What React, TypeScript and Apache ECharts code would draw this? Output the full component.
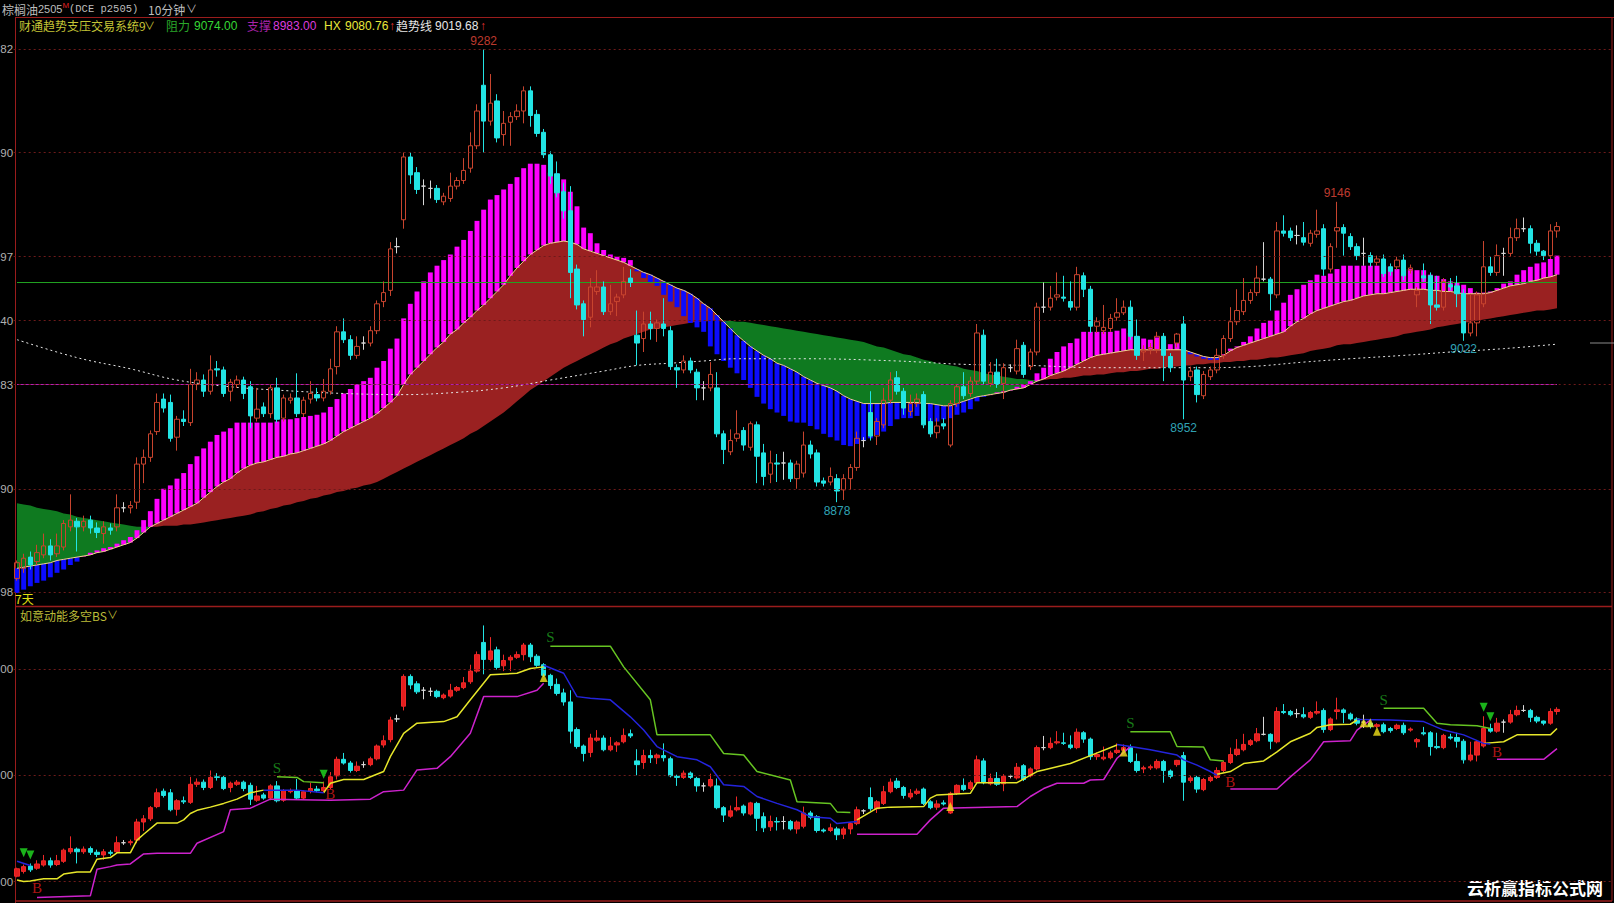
import React, { useEffect, useRef } from "react";
import * as echarts from "echarts";

// ---------- DATA ----------
const SLOT_COUNT = 240;
const SLOTS = Array.from({ length: SLOT_COUNT }, (_, i) => String(i));

// [open, close, low, high]
const CANDLES: number[][] = [
  [8810,8824,8808,8826],[8819,8828,8815,8832],[8829,8822,8818,8834],[8825,8833,8822,8840],[8831,8839,8828,8850],
  [8839,8831,8826,8845],[8832,8839,8829,8850],[8838,8859,8835,8862],[8856,8862,8852,8885],[8861,8856,8834,8864],
  [8856,8861,8852,8866],[8862,8855,8850,8866],[8855,8851,8846,8860],[8850,8856,8841,8861],[8855,8853,8849,8859],
  [8856,8873,8852,8885],[8873,8873,8869,8878],[8873,8875,8868,8879],[8878,8912,8872,8918],[8912,8918,8895,8925],
  [8918,8939,8914,8942],[8941,8967,8938,8975],[8970,8962,8958,8975],[8967,8935,8932,8974],[8936,8952,8924,8955],
  [8952,8950,8946,8960],[8949,8983,8946,8997],[8983,8987,8978,8994],[8987,8977,8972,8992],[8977,8996,8974,9009],
  [8997,8996,8990,9004],[8996,8975,8972,8999],[8977,8985,8968,8988],[8983,8987,8980,8991],[8987,8975,8970,8990],
  [8981,8955,8944,8986],[8953,8961,8950,8980],[8963,8957,8954,8967],[8957,8980,8953,8983],[8980,8952,8949,8989],
  [8953,8971,8950,8974],[8969,8971,8966,8975],[8971,8957,8954,8993],[8957,8969,8954,8972],[8970,8975,8966,8986],
  [8974,8971,8968,8980],[8971,8977,8968,8988],[8977,8997,8974,9006],[8999,9030,8992,9035],[9030,9023,9020,9042],
  [9023,9009,9005,9027],[9009,9017,9006,9026],[9020,9020,9014,9026],[9020,9031,9017,9035],[9031,9055,9028,9058],
  [9057,9065,9052,9075],[9067,9104,9062,9110],[9106,9106,9100,9114],[9130,9186,9122,9190],[9186,9170,9162,9190],
  [9172,9157,9153,9177],[9160,9160,9143,9166],[9158,9158,9149,9165],[9158,9148,9145,9161],[9146,9151,9143,9154],
  [9149,9160,9146,9172],[9160,9165,9157,9168],[9165,9174,9162,9185],[9176,9196,9172,9208],[9196,9227,9193,9233],
  [9250,9218,9190,9282],[9218,9234,9214,9260],[9236,9203,9199,9242],[9206,9216,9196,9227],[9217,9222,9196,9226],
  [9222,9227,9219,9233],[9227,9245,9216,9249],[9245,9223,9213,9249],[9224,9207,9204,9228],[9208,9188,9185,9211],
  [9188,9169,9162,9191],[9171,9154,9150,9182],[9155,9138,9131,9163],[9138,9083,9060,9160],[9086,9054,9050,9090],
  [9055,9041,9026,9058],[9043,9070,9034,9078],[9066,9070,9063,9085],[9070,9048,9045,9075],[9048,9055,9045,9072],
  [9057,9061,9044,9064],[9063,9075,9060,9088],[9078,9074,9070,9086],[9027,9020,9000,9049],[9024,9037,9012,9048],
  [9037,9033,9023,9048],[9033,9038,9021,9041],[9037,9033,9026,9060],[9031,8999,8996,9035],[8998,8996,8980,9001],
  [8996,9004,8993,9009],[9004,8996,8993,9007],[8994,8980,8969,8997],[8980,8980,8969,8986],[8980,8992,8977,9003],
  [8980,8939,8936,8994],[8939,8925,8912,8942],[8923,8933,8920,8943],[8935,8939,8932,8960],[8942,8929,8924,8945],
  [8927,8948,8924,8950],[8947,8919,8895,8950],[8922,8901,8893,8930],[8903,8913,8895,8924],[8913,8912,8896,8921],
  [8913,8913,8898,8923],[8913,8899,8896,8916],[8899,8912,8890,8915],[8904,8929,8900,8941],[8929,8921,8917,8933],
  [8922,8896,8892,8925],[8897,8895,8892,8900],[8896,8901,8893,8909],[8899,8888,8878,8903],[8889,8899,8880,8903],
  [8899,8909,8889,8912],[8909,8935,8906,8941],[8933,8933,8927,8936],[8958,8937,8933,8977],[8937,8950,8929,8953],
  [8947,8969,8944,8980],[8969,8987,8966,8994],[8989,8977,8974,8995],[8977,8962,8956,8980],[8959,8966,8955,8974],
  [8966,8970,8963,8975],[8974,8947,8944,8977],[8950,8939,8936,8953],[8940,8946,8935,8953],[8948,8946,8943,8953],
  [8929,8966,8927,8969],[8966,8981,8963,8983],[8981,8973,8970,8994],[8975,8986,8972,8990],[8986,9029,8983,9037],
  [9027,8986,8983,9032],[8984,8994,8981,9003],[8994,8983,8980,9006],[8984,8998,8970,9002],[8998,8998,8994,9001],
  [8995,9015,8992,9023],[9018,8992,8989,9021],[8999,9012,8996,9015],[9012,9052,9009,9056],[9052,9052,9047,9074],
  [9052,9060,9049,9071],[9061,9063,9058,9083],[9061,9060,9057,9080],[9057,9052,9049,9075],[9052,9081,9049,9088],
  [9080,9068,9061,9083],[9068,9035,9029,9071],[9035,9039,9029,9043],[9031,9034,9028,9054],[9033,9042,9030,9046],
  [9043,9047,9040,9060],[9047,9052,9045,9058],[9052,9026,9023,9058],[9026,9009,9005,9041],[9012,9014,9004,9018],
  [9014,9016,9010,9020],[9014,9026,9011,9030],[9026,9009,8986,9029],[9008,8998,8994,9011],[9020,9028,9016,9029],
  [9037,8987,8952,9044],[8990,8995,8986,8999],[8996,8974,8967,8999],[8973,8992,8970,8995],[8990,8996,8987,8999],
  [8996,9009,8993,9015],[9009,9024,9006,9027],[9024,9039,9021,9052],[9039,9049,9036,9068],[9048,9058,9045,9078],
  [9058,9065,9055,9068],[9065,9078,9062,9089],[9077,9077,9075,9110],[9077,9064,9049,9079],[9063,9120,9060,9128],
  [9120,9118,9115,9134],[9120,9114,9111,9123],[9116,9116,9108,9125],[9114,9110,9107,9128],[9109,9118,9106,9121],
  [9117,9120,9114,9139],[9122,9086,9080,9126],[9086,9106,9083,9109],[9120,9123,9105,9146],[9123,9118,9098,9126],
  [9115,9106,9103,9118],[9106,9098,9094,9109],[9100,9100,9089,9114],[9098,9092,9088,9101],[9092,9095,9089,9098],
  [9095,9082,9079,9099],[9088,9084,9080,9091],[9088,9094,9085,9097],[9094,9080,9076,9099],[9085,9087,9082,9090],
  [9063,9067,9052,9070],[9080,9078,9075,9091],[9080,9054,9037,9083],[9054,9052,9049,9080],[9052,9075,9049,9078],
  [9072,9070,9067,9078],[9071,9064,9052,9080],[9064,9029,9022,9068],[9029,9038,9026,9063],[9038,9063,9026,9066],
  [9055,9088,9052,9111],[9088,9083,9080,9097],[9083,9098,9080,9108],[9100,9100,9080,9105],[9100,9114,9097,9123],
  [9114,9122,9111,9131],[9122,9122,9119,9132],[9122,9109,9100,9125],[9109,9102,9098,9112],[9102,9098,9094,9103],
  [9098,9120,9095,9126],[9120,9124,9114,9128],
];

// HX line (fast trend line, base of the histogram bars)
const HX = [
  8819,8820,8821,8822,8823,8824,8826,8827,8828,8829, 8830,8831,8833,8834,8836,8838,8840,8842,8846,8851,
  8856,8859,8862,8865,8868,8871,8874,8877,8882,8887, 8892,8896,8899,8904,8908,8911,8913,8914,8916,8918,
  8919,8921,8922,8924,8926,8928,8930,8933,8937,8941, 8944,8947,8950,8953,8957,8962,8967,8973,8983,8992,
  8998,9004,9010,9016,9021,9028,9032,9038,9043,9049, 9054,9060,9066,9072,9080,9087,9093,9099,9103,9107,
  9109,9110,9111,9110,9108,9104,9102,9100,9098,9096, 9094,9092,9089,9086,9083,9081,9078,9075,9072,9069,
  9067,9064,9060,9055,9051,9045,9039,9033,9027,9022, 9017,9013,9009,9006,9002,9000,8997,8994,8990,8987,
  8984,8982,8980,8977,8973,8970,8968,8966,8966,8966, 8966,8967,8967,8967,8967,8967,8966,8966,8965,8964,
  8964,8966,8968,8970,8972,8973,8974,8975,8976,8978, 8979,8980,8983,8986,8988,8991,8993,8995,8998,9001,
  9004,9007,9009,9010,9011,9012,9013,9014,9014,9014, 9014,9014,9014,9014,9014,9014,9012,9010,9008,9007,
  9007,9009,9013,9016,9018,9020,9022,9024,9026,9028, 9030,9035,9039,9042,9046,9049,9051,9053,9055,9057,
  9058,9060,9062,9063,9064,9064,9065,9066,9067,9068, 9068,9068,9067,9067,9066,9066,9065,9064,9064,9064,
  9064,9065,9067,9069,9071,9072,9073,9075,9076,9078, 9079,9081,
];

// outer end of the histogram bars (magenta when above HX, blue when below)
const BAR_END = [
  8797,8800,8803,8806,8808,8811,8815,8818,8822,8825, 8830,8833,8835,8837,8838,8841,8844,8847,8853,8862,
  8870,8881,8890,8893,8899,8904,8912,8919,8926,8932, 8938,8941,8944,8949,8949,8949,8949,8949,8949,8950,
  8952,8952,8953,8954,8955,8956,8958,8963,8970,8975, 8979,8983,8986,8989,8998,9004,9015,9024,9042,9055,
  9066,9075,9083,9089,9094,9099,9106,9112,9120,9129, 9139,9148,9152,9157,9162,9168,9176,9180,9180,9179,
  9172,9171,9166,9155,9142,9123,9118,9109,9103,9099, 9097,9096,9094,9084,9078,9074,9071,9063,9057,9052,
  9044,9038,9034,9030,9017,9010,9004,8998,8993,8987, 8980,8972,8966,8961,8958,8955,8950,8949,8949,8946,
  8943,8939,8936,8933,8929,8928,8930,8933,8935,8938, 8941,8946,8952,8953,8953,8955,8953,8950,8950,8952,
  8953,8956,8958,8961,8968,8972,8974,8976,8977,8978, 8981,8983,8986,8993,8998,9006,9012,9017,9020,9024,
  9030,9030,9030,9030,9030,9031,9033,9029,9026,9024, 9023,9025,9023,9019,9020,9015,9010,9008,9006,9005,
  9005,9010,9015,9017,9021,9026,9033,9038,9040,9049, 9056,9063,9068,9072,9076,9081,9080,9082,9086,9089,
  9089,9089,9089,9089,9089,9089,9088,9086,9086,9086, 9085,9085,9081,9080,9077,9075,9074,9072,9069,9065,
  9065,9066,9069,9073,9075,9081,9085,9088,9091,9092, 9095,9098,
];

// slow line (other edge of the red / green band)
const SLOW = [
  8877,8876,8875,8873,8872,8871,8870,8868,8867,8865, 8864,8863,8862,8861,8860,8859,8858,8857,8856,8856,
  8856,8856,8857,8857,8857,8858,8858,8859,8860,8861, 8862,8863,8864,8865,8866,8867,8869,8870,8872,8873,
  8875,8876,8878,8879,8881,8882,8884,8885,8887,8888, 8890,8891,8893,8894,8896,8899,8902,8905,8908,8911,
  8914,8917,8920,8923,8926,8929,8932,8935,8939,8942, 8946,8950,8954,8958,8963,8968,8973,8978,8982,8986,
  8990,8994,8998,9001,9004,9007,9010,9013,9016,9019, 9021,9024,9026,9028,9030,9032,9033,9034,9035,9036,
  9037,9038,9039,9039,9040,9040,9040,9040,9039,9039, 9038,9037,9036,9035,9034,9033,9032,9031,9030,9029,
  9028,9027,9026,9025,9024,9023,9022,9021,9019,9017, 9016,9014,9012,9010,9009,9007,9005,9004,9002,9001,
  9000,8999,8997,8996,8995,8993,8992,8991,8990,8989, 8988,8988,8987,8987,8987,8988,8988,8989,8989,8990,
  8991,8991,8992,8992,8993,8994,8994,8995,8995,8996, 8997,8997,8998,8999,8999,9000,9000,9001,9001,9002,
  9002,9003,9003,9004,9004,9005,9005,9006,9007,9007, 9008,9009,9010,9011,9013,9014,9015,9016,9018,9019,
  9019,9020,9021,9022,9023,9024,9025,9026,9028,9029, 9030,9031,9032,9034,9035,9036,9037,9038,9039,9040,
  9041,9042,9043,9044,9045,9046,9047,9048,9049,9049, 9050,9051,
];

// dotted trend line, read at points [bar index, value]
const TREND_LINE = [
  [0,9023],[9,9007],[17,8997],[24,8987],[32,8981],[39,8978],[49,8975],[58,8974],[66,8976],[73,8980],
  [80,8987],[88,8995],[93,9000],[98,9002],[103,9004],[108,9006],[118,9006],[132,9004],[142,9001],[152,9000],
  [162,8998],[172,8998],[178,8998],[185,8999],[193,9003],[200,9006],[208,9009],[215,9012],[223,9015],[231,9019],
];

const RESISTANCE = 9074;
const SUPPORT = 8983;
const LAST_BAR = 231;
const UPPER_TICKS = [9282, 9190, 9097, 9040, 8983, 8890, 8798];
const LOWER_TICKS = [9200, 9000, 8800];
const HIGH_MARKS = [[70, 9282], [198, 9146]];
const LOW_MARKS = [[123, 8878], [175, 8952], [217, 9022]];

// lower panel (如意动能多空BS) lines, segments of [bar index, value]
const YELLOW_SEGS = [
  [[0,8803],[1,8800],[2,8801],[4,8805],[6,8805],[7,8814],[9,8818],[11,8818],[12,8842],[14,8845],[15,8854],[17,8854],[18,8878],[19,8889],[21,8910],[24,8910],[25,8916],[26,8928],[27,8934],[29,8940],[31,8947],[33,8955],[35,8967],[37,8972]],
  [[46,8967],[47,8985],[49,8992],[52,8992],[55,9007],[56,9035],[58,9079],[60,9098],[64,9101],[66,9110],[68,9142],[71,9189],[75,9192],[77,9201],[79,9204]],
  [[126,8916],[129,8938],[131,8940],[136,8941],[137,8957],[138,8963],[143,8966],[144,8986],[150,8986],[153,9007],[154,9010],[158,9022],[161,9037],[165,9057]],
  [[180,9002],[182,9007],[184,9022],[187,9027],[189,9044],[191,9063],[194,9079],[195,9090],[197,9095],[200,9096],[201,9104]],
  [[220,9060],[223,9063],[225,9076],[230,9076],[231,9088]],
];
const MAGENTA_SEGS = [
  [[3,8770],[11,8773],[12,8823],[14,8828],[15,8831],[17,8833],[19,8852],[21,8853],[26,8853],[27,8872],[31,8894],[32,8935],[35,8938],[38,8955],[47,8953],[53,8955],[55,8969],[58,8972],[60,9010],[63,9013],[65,9035],[68,9079],[70,9148],[75,9148],[78,9160],[79,9173]],
  [[126,8889],[135,8889],[137,8916],[139,8938],[150,8941],[152,8960],[154,8975],[156,8985],[160,8985],[161,8991],[163,8992],[165,9032],[167,9054]],
  [[182,8974],[189,8974],[191,8997],[194,9029],[196,9063],[200,9065],[201,9085],[203,9104]],
  [[222,9030],[229,9030],[231,9050]],
];
const BLUE_SEGS = [
  [[0,8838],[2,8830]],
  [[37,8972],[42,8972],[46,8967]],
  [[79,9207],[82,9192],[84,9148],[86,9145],[89,9142],[92,9110],[94,9085],[96,9054],[99,9035],[102,9029],[104,9016],[106,8982],[109,8979],[111,8960],[114,8947],[117,8935],[119,8922],[122,8919],[123,8909],[126,8913]],
  [[165,9058],[167,9054],[170,9048],[174,9038],[175,9029],[177,9019],[179,9007],[180,9000]],
  [[201,9105],[206,9104],[211,9101],[214,9085],[217,9076],[220,9060],[221,9059]],
];
const GREEN_SEGS = [
  [[39,8997],[42,8996],[43,8988],[46,8986]],
  [[80,9243],[89,9243],[91,9204],[95,9142],[96,9076],[104,9076],[106,9041],[109,9038],[111,9007],[116,8991],[117,8950],[122,8947],[123,8931],[125,8930]],
  [[167,9082],[173,9082],[174,9054],[178,9053],[179,9029],[181,9027]],
  [[205,9126],[211,9126],[213,9098],[215,9095],[219,9093],[221,9088]],
];
const S_MARKS = [[39,9013],[80,9261],[167,9098],[205,9142]];
const B_MARKS = [[3,8787],[47,8965],[182,8988],[222,9044]];
const UP_TRIANGLES = [[79,9184],[140,8941],[166,9044],[202,9099],[203,9099],[204,9083]];
const DOWN_TRIANGLES = [[1,8854],[2,8850],[46,9002],[220,9128],[221,9110]];

// ---------- LAYOUT / STYLE ----------
const W = 1614;
const H = 903;
const GRID_LEFT = 13.67;
const GRID_WIDTH = 1600;
const CJK = "'Noto Sans CJK SC', 'Liberation Sans', sans-serif";
const NUM = "'Liberation Sans', 'Noto Sans CJK SC', sans-serif";
const BORDER = "#9a1c1c";

function buildOption() {
  const bandBase = HX.map((a, i) => Math.min(a, SLOW[i]));
  const bandRed = HX.map((a, i) => Math.max(a - SLOW[i], 0));
  const bandGreen = HX.map((a, i) => Math.max(SLOW[i] - a, 0));
  const barData = HX.map((a, i) => [i, a, BAR_END[i]]);

  // the price scale is too narrow for the full numbers: only their last two digits show
  const gridMark = (ticks: number[]) => ({
    silent: true,
    symbol: ["none", "none"],
    lineStyle: { color: "#6e1a1a", type: [2, 3], width: 1 },
    label: {
      show: true,
      position: "start",
      distance: 0.5,
      color: "#b0b0b0",
      fontSize: 11.5,
      fontFamily: NUM,
      formatter: (p: any) => String(p.value).slice(-2),
    },
    data: ticks.map((v) => ({ yAxis: v })),
  });

  const segLines = (segs: number[][][], color: string, name: string) =>
    segs.map((seg, k) => ({
      name: name + k,
      type: "line",
      xAxisIndex: 1,
      yAxisIndex: 1,
      data: seg,
      symbol: "none",
      silent: true,
      z: 5,
      lineStyle: { color, width: 1.5 },
    }));

  const txt = (x: number, y: number, text: string, fill: string, size = 12, family = CJK, extra: any = {}) => ({
    type: "text",
    x,
    y,
    silent: true,
    style: { text, fill, fontSize: size, fontFamily: family, verticalAlign: "middle", align: "left", ...extra },
  });
  const ln = (x1: number, y1: number, x2: number, y2: number, stroke: string, lineWidth = 1) => ({
    type: "line",
    silent: true,
    shape: { x1, y1, x2, y2 },
    style: { stroke, lineWidth },
  });

  return {
    animation: false,
    backgroundColor: "#000000",
    grid: [
      { left: GRID_LEFT, top: 18, width: GRID_WIDTH, height: 589 },
      { left: GRID_LEFT, top: 607, width: GRID_WIDTH, height: 294 },
    ],
    xAxis: [
      { type: "category", gridIndex: 0, data: SLOTS, boundaryGap: true, show: false },
      { type: "category", gridIndex: 1, data: SLOTS, boundaryGap: true, show: false },
    ],
    yAxis: [
      { type: "value", gridIndex: 0, min: 8784.5, max: 9310, show: false, splitLine: { show: false } },
      { type: "value", gridIndex: 1, min: 8763.3, max: 9316.7, show: false, splitLine: { show: false } },
    ],
    series: [
      // red / green band between HX and slow line
      { name: "bandBase", type: "line", stack: "band", data: bandBase, symbol: "none", silent: true, z: 1, lineStyle: { opacity: 0 } },
      { name: "bandRed", type: "line", stack: "band", data: bandRed, symbol: "none", silent: true, z: 1, lineStyle: { opacity: 0 }, areaStyle: { color: "#9a2121", opacity: 1 } },
      { name: "bandGreen", type: "line", stack: "band", data: bandGreen, symbol: "none", silent: true, z: 1, lineStyle: { opacity: 0 }, areaStyle: { color: "#0f7a20", opacity: 1 } },
      // histogram bars
      {
        name: "bars",
        type: "custom",
        xAxisIndex: 0,
        yAxisIndex: 0,
        z: 2,
        silent: true,
        data: barData,
        encode: { x: 0, y: [1, 2] },
        renderItem: (params: any, api: any) => {
          const i = api.value(0);
          const a = api.value(1);
          const c = api.value(2);
          const p1 = api.coord([i, a]);
          const p2 = api.coord([i, c]);
          const w = api.size([1, 0])[0] * 0.74;
          return {
            type: "rect",
            shape: { x: p1[0] - w / 2, y: Math.min(p1[1], p2[1]), width: w, height: Math.max(0.5, Math.abs(p1[1] - p2[1])) },
            style: { fill: c >= a ? "#ff00ff" : "#0c0cff" },
          };
        },
      },
      { name: "HX", type: "line", data: HX, symbol: "none", silent: true, z: 3, lineStyle: { color: "#f4d48c", width: 1 } },
      { name: "trend", type: "line", data: TREND_LINE, smooth: 0.4, symbol: "none", silent: true, z: 3, lineStyle: { color: "#e6e6e6", width: 1, type: [2, 3] } },
      { name: "resistance", type: "line", data: [[0, RESISTANCE], [LAST_BAR, RESISTANCE]], symbol: "none", silent: true, z: 3, lineStyle: { color: "#22a322", width: 1 } },
      { name: "support", type: "line", data: [[0, SUPPORT], [LAST_BAR, SUPPORT]], symbol: "none", silent: true, z: 3, lineStyle: { color: "#b41eb4", width: 1 } },
      {
        name: "price",
        type: "candlestick",
        xAxisIndex: 0,
        yAxisIndex: 0,
        data: CANDLES,
        barWidth: 5,
        z: 4,
        silent: true,
        itemStyle: {
          color: "rgba(0,0,0,0)",
          color0: "#22e4e4",
          borderColor: "#c8442e",
          borderColor0: "#22e4e4",
          borderColorDoji: "#d8d8d8",
          borderWidth: 1,
        },
        markLine: gridMark(UPPER_TICKS),
      },
      {
        name: "highs",
        type: "scatter",
        data: HIGH_MARKS,
        symbolSize: 1,
        itemStyle: { color: "rgba(0,0,0,0)" },
        z: 6,
        silent: true,
        label: { show: true, position: "top", distance: 2, color: "#ee4b3c", fontSize: 12, fontFamily: NUM, formatter: (p: any) => String(p.value[1]) },
      },
      {
        name: "lows",
        type: "scatter",
        data: LOW_MARKS,
        symbolSize: 1,
        itemStyle: { color: "rgba(0,0,0,0)" },
        z: 6,
        silent: true,
        label: { show: true, position: "bottom", distance: 2, color: "#3ecfe0", fontSize: 12, fontFamily: NUM, formatter: (p: any) => String(p.value[1]) },
      },
      // ----- lower panel -----
      {
        name: "price2",
        type: "candlestick",
        xAxisIndex: 1,
        yAxisIndex: 1,
        data: CANDLES,
        barWidth: 5,
        z: 4,
        silent: true,
        itemStyle: {
          color: "#e41e1e",
          color0: "#22e4e4",
          borderColor: "#f02828",
          borderColor0: "#22e4e4",
          borderColorDoji: "#d8d8d8",
          borderWidth: 1,
        },
        markLine: gridMark(LOWER_TICKS),
      },
      ...segLines(YELLOW_SEGS, "#e6e62a", "yellow"),
      ...segLines(MAGENTA_SEGS, "#cc22cc", "magenta"),
      ...segLines(BLUE_SEGS, "#2424dc", "blue"),
      ...segLines(GREEN_SEGS, "#66c422", "green"),
      {
        name: "S",
        type: "scatter",
        xAxisIndex: 1,
        yAxisIndex: 1,
        data: S_MARKS,
        symbolSize: 1,
        itemStyle: { color: "rgba(0,0,0,0)" },
        z: 7,
        silent: true,
        label: { show: true, position: "inside", formatter: "S", color: "#1f9a1f", fontSize: 15, fontFamily: "'Liberation Serif', serif" },
      },
      {
        name: "B",
        type: "scatter",
        xAxisIndex: 1,
        yAxisIndex: 1,
        data: B_MARKS,
        symbolSize: 1,
        itemStyle: { color: "rgba(0,0,0,0)" },
        z: 7,
        silent: true,
        label: { show: true, position: "inside", formatter: "B", color: "#d81a1a", fontSize: 15, fontFamily: "'Liberation Serif', serif" },
      },
      {
        name: "up",
        type: "scatter",
        xAxisIndex: 1,
        yAxisIndex: 1,
        data: UP_TRIANGLES,
        symbol: "triangle",
        symbolSize: [8, 9],
        itemStyle: { color: "#f2e21a" },
        z: 7,
        silent: true,
      },
      {
        name: "down",
        type: "scatter",
        xAxisIndex: 1,
        yAxisIndex: 1,
        data: DOWN_TRIANGLES,
        symbol: "triangle",
        symbolRotate: 180,
        symbolSize: [8, 9],
        itemStyle: { color: "#22e022" },
        z: 7,
        silent: true,
      },
    ],
    graphic: [
      // borders
      ln(15, 17.5, W, 17.5, BORDER),
      ln(15.5, 17.5, 15.5, H, BORDER),
      ln(15, 606.5, 1612, 606.5, BORDER, 1.5),
      ln(15, 901, 1612, 901, BORDER, 1.5),
      ln(1612, 17.5, 1612, 901, BORDER),
      ln(1590, 343, W, 343, "#8a8a8a"),
      // header line 1
      txt(2, 9, "棕榈油", "#bdbdbd", 12),
      txt(38, 9, "2505", "#bdbdbd", 11, NUM),
      txt(62.5, 5, "M", "#e02020", 8, NUM),
      txt(69, 9, "(DCE p2505)", "#bdbdbd", 10.5, "'Liberation Mono', monospace"),
      txt(148, 9, "10分钟", "#bdbdbd", 12),
      txt(186, 9, "∨", "#bdbdbd", 11, NUM),
      // header line 2
      txt(19, 25.5, "财通趋势支压交易系统9", "#c4c436", 12),
      txt(144, 25.5, "∨", "#c4c436", 11, NUM),
      txt(166, 25.5, "阻力", "#2aa82a", 12),
      txt(194, 25.5, "9074.00", "#35d835", 12, NUM),
      txt(247, 25.5, "支撑", "#a822a8", 12),
      txt(273, 25.5, "8983.00", "#dc3cdc", 12, NUM),
      txt(324, 25.5, "HX", "#e8e83a", 12, NUM),
      txt(345, 25.5, "9080.76", "#e8e83a", 12, NUM),
      txt(389, 25.5, "↑", "#e03030", 12, NUM),
      txt(396, 25.5, "趋势线", "#e6e6e6", 12),
      txt(435, 25.5, "9019.68", "#e6e6e6", 12, NUM),
      txt(480, 25.5, "↑", "#e03030", 12, NUM),
      // panel captions
      txt(15, 598, "7天", "#e0e010", 12),
      txt(20, 615, "如意动能多空BS", "#bcbc38", 12),
      txt(107, 615, "∨", "#bcbc38", 11, NUM),
      // watermark
      txt(1467, 887, "云析赢指标公式网", "#ffffff", 17, CJK, { fontWeight: "bold" }),
    ],
  };
}

export default function App() {
  const ref = useRef<HTMLDivElement>(null);
  useEffect(() => {
    if (!ref.current) return;
    const chart = echarts.init(ref.current, undefined, { renderer: "svg", width: W, height: H });
    chart.setOption(buildOption() as any);
    return () => chart.dispose();
  }, []);
  return (
    <div
      ref={ref}
      style={{ position: "absolute", left: 0, top: 0, width: W, height: H, background: "#000", overflow: "hidden" }}
    />
  );
}
